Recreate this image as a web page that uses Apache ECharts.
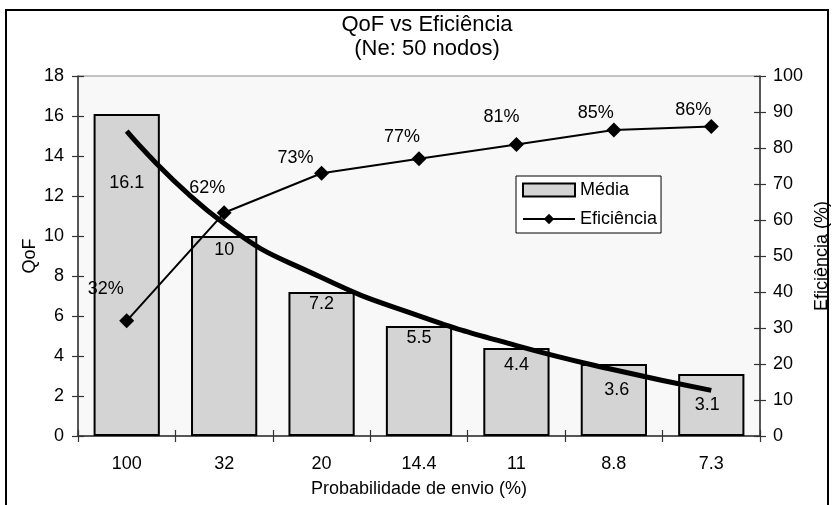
<!DOCTYPE html>
<html>
<head>
<meta charset="utf-8">
<script src="https://cdn.jsdelivr.net/npm/echarts@6/dist/echarts.min.js"></script>
<style>
  html, body { margin: 0; padding: 0; background: #fff; }
  #chart { width: 834px; height: 505px; }
</style>
</head>
<body>
<div id="chart"></div>
<script>
// Probabilidade de envio (%) per scenario
const categories = ['100', '32', '20', '14.4', '11', '8.8', '7.3'];
// Média do QoF
const mediaValues = [16.1, 10, 7.2, 5.5, 4.4, 3.6, 3.1];
// Eficiência (%)
const eficienciaValues = [32, 62, 73, 77, 81, 85, 86];
// Tendência (logarítmica) do QoF, lida em cada categoria
const trendValues = [15.24, 10.62, 7.92, 6.01, 4.52, 3.31, 2.28];
// Eixos
const qofTicks = { min: 0, max: 18, interval: 2 };
const efTicks = { min: 0, max: 100, interval: 10 };

// Label placement tweaks (layout only)
const barLabelShift = [[0, 55], [0, 0], [0, -2], [0, -2], [0, 3], [3, 12], [-4, 17]];
const efLabelShift = [[-21, -32], [-17, -25], [-26, -15], [-17, -22], [-15, -27], [-18, -17], [-18, -16]];

const FONT = '"Liberation Sans", Arial, Helvetica, sans-serif';
const AXIS_COLOR = '#333';

const chart = echarts.init(document.getElementById('chart'), null, { renderer: 'canvas' });

const commonText = { color: '#000', fontFamily: FONT, fontSize: 18 };

const option = {
  animation: false,
  backgroundColor: '#fff',
  textStyle: { fontFamily: FONT, color: '#000' },
  title: {
    text: 'QoF vs Eficiência\n(Ne: 50 nodos)',
    left: 422,
    top: 8,
    textAlign: 'center',
    textStyle: { fontFamily: FONT, fontSize: 22, fontWeight: 'normal', color: '#000', lineHeight: 24 }
  },
  graphic: [{
    type: 'rect',
    silent: true,
    z: 100,
    shape: { x: 6, y: 10, width: 822, height: 520 },
    style: { fill: 'none', stroke: '#000', lineWidth: 2 }
  }],
  legend: {
    data: [{ name: 'Média', icon: 'rect' }, { name: 'Eficiência' }],
    orient: 'vertical',
    left: 516,
    top: 176,
    padding: [5, 4, 5, 6],
    itemGap: 11,
    itemWidth: 52,
    itemHeight: 13,
    itemTextGap: 3,
    backgroundColor: '#fff',
    borderColor: '#000',
    borderWidth: 1,
    borderRadius: 0,
    textStyle: commonText
  },
  grid: {
    left: 78, right: 74, top: 76, bottom: 69,
    containLabel: false,
    outerBoundsMode: 'none',
    show: true,
    backgroundColor: '#f8f8f8',
    borderColor: '#888',
    borderWidth: 1
  },
  xAxis: [{
    type: 'category',
    data: categories,
    position: 'bottom',
    name: 'Probabilidade de envio (%)',
    nameLocation: 'middle',
    nameGap: 44,
    nameMoveOverlap: false,
    nameTextStyle: commonText,
    axisLine: { show: true, lineStyle: { color: AXIS_COLOR, width: 1.5 } },
    axisTick: { show: true, length: 6, lineStyle: { color: AXIS_COLOR, width: 1.2 } },
    axisLabel: Object.assign({ margin: 19 }, commonText),
    splitLine: { show: false }
  }, {
    type: 'category',
    data: categories,
    position: 'bottom',
    axisLine: { show: false },
    axisTick: { show: true, inside: true, length: 6, lineStyle: { color: AXIS_COLOR, width: 1.2 } },
    axisLabel: { show: false },
    splitLine: { show: false }
  }],
  yAxis: [{
    type: 'value',
    position: 'left',
    min: qofTicks.min, max: qofTicks.max, interval: qofTicks.interval,
    name: 'QoF',
    nameLocation: 'middle',
    nameRotate: 90,
    nameGap: 39,
    nameMoveOverlap: false,
    nameTextStyle: commonText,
    axisLine: { show: true, lineStyle: { color: AXIS_COLOR, width: 1.5 } },
    axisTick: { show: true, length: 6, lineStyle: { color: AXIS_COLOR, width: 1.2 } },
    axisLabel: Object.assign({ margin: 14 }, commonText),
    splitLine: { show: false }
  }, {
    type: 'value',
    position: 'right',
    min: efTicks.min, max: efTicks.max, interval: efTicks.interval,
    name: 'Eficiência (%)',
    nameLocation: 'middle',
    nameRotate: 90,
    nameGap: 53,
    nameMoveOverlap: false,
    nameTextStyle: commonText,
    axisLine: { show: true, lineStyle: { color: AXIS_COLOR, width: 1.5 } },
    axisTick: { show: true, length: 6, lineStyle: { color: AXIS_COLOR, width: 1.2 } },
    axisLabel: Object.assign({ margin: 13 }, commonText),
    splitLine: { show: false }
  }, {
    type: 'value',
    position: 'left',
    min: qofTicks.min, max: qofTicks.max, interval: qofTicks.interval,
    axisLine: { show: false },
    axisTick: { show: true, inside: true, length: 6, lineStyle: { color: AXIS_COLOR, width: 1.2 } },
    axisLabel: { show: false },
    splitLine: { show: false }
  }, {
    type: 'value',
    position: 'right',
    min: efTicks.min, max: efTicks.max, interval: efTicks.interval,
    axisLine: { show: false },
    axisTick: { show: true, inside: true, length: 6, lineStyle: { color: AXIS_COLOR, width: 1.2 } },
    axisLabel: { show: false },
    splitLine: { show: false }
  }],
  series: [{
    name: 'Média',
    type: 'bar',
    xAxisIndex: 0,
    yAxisIndex: 0,
    barCategoryGap: '32%',
    itemStyle: { color: '#d4d4d4', borderColor: '#000', borderWidth: 2 },
    data: mediaValues.map((v, i) => ({
      value: v,
      label: { offset: barLabelShift[i] }
    })),
    label: Object.assign({ show: true, position: 'insideTop', distance: 5 }, commonText),
    z: 2
  }, {
    name: 'Tendência',
    type: 'line',
    xAxisIndex: 0,
    yAxisIndex: 0,
    data: trendValues,
    smooth: true,
    showSymbol: false,
    symbol: 'none',
    silent: true,
    lineStyle: { color: '#000', width: 5, cap: 'butt' },
    z: 4
  }, {
    name: 'Eficiência',
    type: 'line',
    xAxisIndex: 0,
    yAxisIndex: 1,
    data: eficienciaValues.map((v, i) => ({
      value: v,
      label: { offset: efLabelShift[i] }
    })),
    symbol: 'diamond',
    symbolSize: 15,
    itemStyle: { color: '#000' },
    lineStyle: { color: '#000', width: 2 },
    label: Object.assign({ show: true, position: 'inside', formatter: '{c}%' }, commonText),
    z: 5
  }]
};

chart.setOption(option);
</script>
</body>
</html>
